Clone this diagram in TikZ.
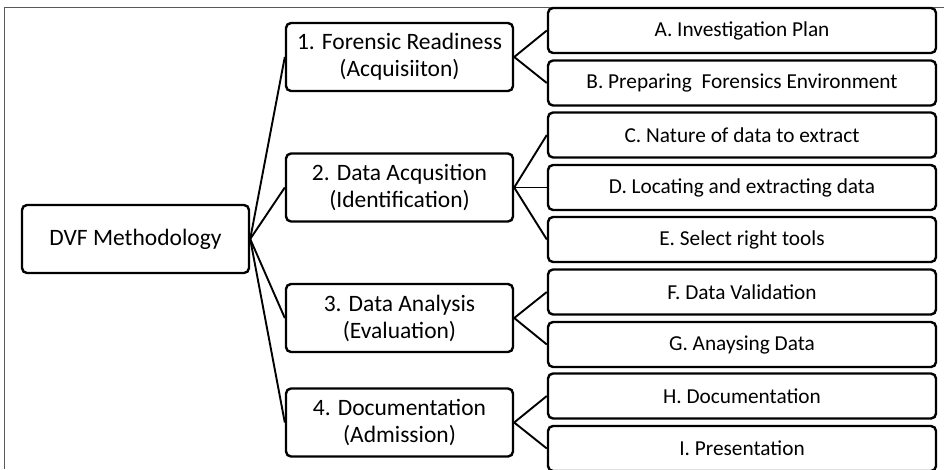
\documentclass[tikz,border=0pt]{standalone}
\usepackage{fontspec}
\setmainfont{Carlito}
\begin{document}
\begin{tikzpicture}[x=1pt,y=-1pt,
  box/.style={draw=black,line width=2.4pt,rounded corners=5pt,fill=white,inner sep=0pt,align=center},
  mainbox/.style={box,minimum width=227pt,minimum height=68pt,font=\fontsize{23.5}{27}\selectfont},
  leaf/.style={box,minimum width=388pt,minimum height=45pt,font=\fontsize{21.3}{25}\selectfont},
  conn/.style={draw=black,line width=1.9pt}]
\useasboundingbox (0,0) rectangle (944,469);
\begin{scope}
\clip (0,0) rectangle (944,469);
\draw[gray!70!black,line width=1pt] (4,469) -- (4,7) -- (944,7);
\node[mainbox] (root) at (135.5,239) {DVF Methodology};
\node[mainbox] (p1) at (399.5,57) {1. Forensic Readiness\\(Acquisiiton)};
\node[mainbox] (p2) at (399.5,187.5) {2. Data Acqusition\\(Identification)};
\node[mainbox] (p3) at (399.5,318) {3. Data Analysis\\(Evaluation)};
\node[mainbox] (p4) at (399.5,422.5) {4. Documentation\\(Admission)};
\node[leaf] (a) at (742,30.5) {A. Investigation Plan};
\node[leaf] (b) at (742,83) {B. Preparing~ Forensics Environment};
\node[leaf] (c) at (742,135) {C. Nature of data to extract};
\node[leaf] (d) at (742,187.5) {D. Locating and extracting data};
\node[leaf] (e) at (742,239.5) {E. Select right tools};
\node[leaf] (f) at (742,292) {F. Data Validation};
\node[leaf] (g) at (742,344.5) {G. Anaysing Data};
\node[leaf] (h) at (742,396) {H. Documentation};
\node[leaf] (i) at (742,448.5) {I. Presentation};
\foreach \t in {p1,p2,p3,p4} \draw[conn] (root.east) -- (\t.west);
\draw[conn] (p1.east) -- (a.west);
\draw[conn] (p1.east) -- (b.west);
\draw[conn] (p2.east) -- (c.west);
\draw[conn] (p2.east) -- (d.west);
\draw[conn] (p2.east) -- (e.west);
\draw[conn] (p3.east) -- (f.west);
\draw[conn] (p3.east) -- (g.west);
\draw[conn] (p4.east) -- (h.west);
\draw[conn] (p4.east) -- (i.west);
\end{scope}
\end{tikzpicture}
\end{document}
